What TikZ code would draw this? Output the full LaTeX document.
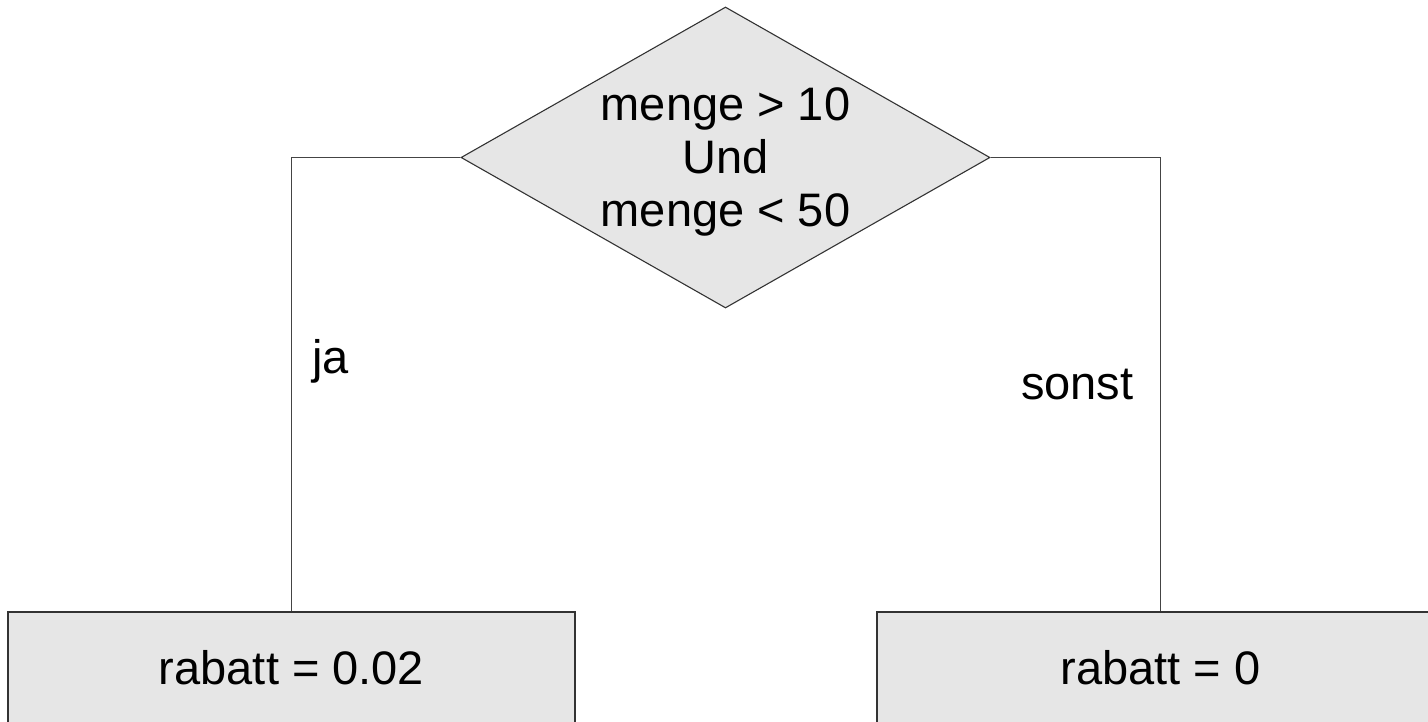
\documentclass[tikz,border=0pt]{standalone}
\usepackage{fontspec}
\setmainfont{Liberation Sans}
\usetikzlibrary{shapes.geometric}
\definecolor{boxfill}{HTML}{E6E6E6}
\definecolor{edge}{HTML}{333333}
\definecolor{wire}{HTML}{444444}
\tikzset{
  decisionbox/.style={diamond, draw=edge, fill=boxfill, line width=1.1pt, inner sep=0pt,
    minimum width=529pt, minimum height=301pt},
  actionbox/.style={rectangle, draw=edge, fill=boxfill, line width=1.3pt, inner sep=0pt,
    minimum width=567pt, minimum height=112pt},
  bigtext/.style={font=\fontsize{47}{53}\selectfont, inner sep=0pt, align=center},
  wireline/.style={draw=wire, line width=1.2pt},
}
\begin{document}
\begin{tikzpicture}[x=1pt,y=-1pt]
\useasboundingbox (0,0) rectangle (1428,722);
\clip (0,0) rectangle (1428,722);
\node[decisionbox] (cond) at (725.5,157.5) {};
\node[bigtext] (condtxt) at (725.5,162) {menge > 10\\Und\\menge < 50};
\node[actionbox] (yes) at (291.5,668) {};
\node[bigtext] (yestxt) at (291.5,668) {rabatt = 0.02};
\node[actionbox] (no) at (1160.5,668) {};
\node[bigtext] (notxt) at (1160.5,668) {rabatt = 0};
\draw[wireline] (cond.west) -| (yes.north);
\draw[wireline] (cond.east) -| (no.north);
\node[bigtext, anchor=base west] (ja) at (312,373) {ja};
\node[bigtext, anchor=base west] (sonst) at (1021,399) {sonst};
\end{tikzpicture}
\end{document}
